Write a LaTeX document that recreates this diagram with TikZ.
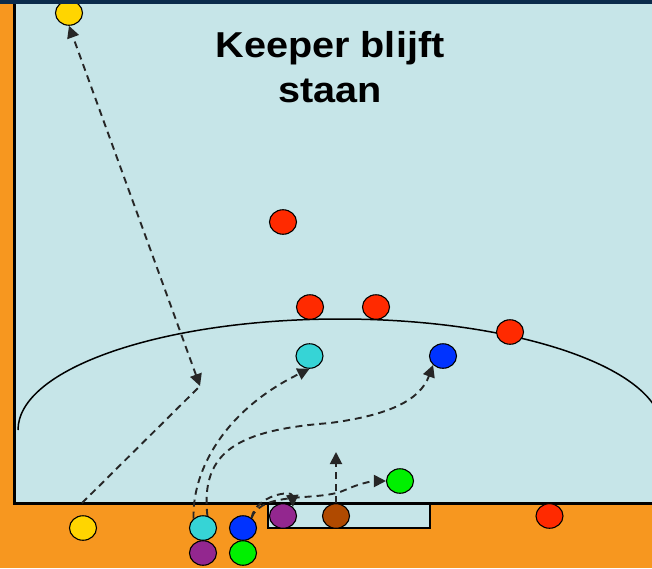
\documentclass[tikz,border=0pt]{standalone}
\usepackage{fontspec}
\setmainfont{Liberation Sans}
\usetikzlibrary{arrows.meta,shapes.geometric}
\definecolor{orng}{HTML}{F7971F}
\definecolor{fld}{HTML}{C6E5E8}
\definecolor{navy}{HTML}{0B2B4B}
\definecolor{pyel}{HTML}{FFD500}
\definecolor{pred}{HTML}{FF2A00}
\definecolor{pcyan}{HTML}{36D4D6}
\definecolor{pblue}{HTML}{0033FF}
\definecolor{pgreen}{HTML}{00F000}
\definecolor{ppurp}{HTML}{93278F}
\definecolor{pbrown}{HTML}{B04A00}
\begin{document}
\begin{tikzpicture}[x=1pt,y=-1pt,
 dot/.style={ellipse,draw=black,line width=1.1pt,minimum width=27pt,minimum height=24.5pt,inner sep=0pt,fill=#1},
 run/.style={dash pattern=on 7pt off 5pt,line width=1.9pt,draw=black!85},
 tip/.style={-{Triangle[length=12pt,width=12pt]}},
 tiptwo/.style={{Triangle[length=12pt,width=12pt]}-{Triangle[length=12pt,width=12pt]}},
 title/.style={font=\fontsize{36}{43}\selectfont\bfseries,inner sep=0pt,anchor=base}]
\useasboundingbox (0,0) rectangle (652,568);
\fill[orng] (0,0) rectangle (652,568);
\fill[fld] (14,4) rectangle (652,503);
\begin{scope}
\clip (15,4) rectangle (652,502);
\draw[line width=1.5pt] (18,430) arc[start angle=180,end angle=0,x radius=322pt,y radius=111pt];
\end{scope}
\draw[line width=2.5pt] (14.5,4) -- (14.5,503.5) -- (652,503.5);
\draw[fill=fld,line width=2pt] (268,503.5) rectangle (430,528);
\node[title] (t1) at (330,57) {\scalebox{1.1}[1]{Keeper blijft}};
\node[title] (t2) at (330,102) {\scalebox{1.1}[1]{staan}};
% players
\node[dot=pyel] (y1) at (69,13) {};
\node[dot=pred] (r1) at (283,222) {};
\node[dot=pred] (r2) at (310,307) {};
\node[dot=pred] (r3) at (376,307) {};
\node[dot=pred] (r4) at (510,332) {};
\node[dot=pcyan] (c1) at (309.5,356) {};
\node[dot=pblue] (b1) at (443,356) {};
\node[dot=pgreen] (g1) at (400,481) {};
\node[dot=pyel] (y2) at (83,528) {};
\node[dot=pcyan] (c2) at (203,528) {};
\node[dot=ppurp] (p1) at (203,553) {};
\node[dot=pblue] (b2) at (243,528) {};
\node[dot=pgreen] (g2) at (243,553) {};
\node[dot=ppurp] (p2) at (283,516) {};
\node[dot=pbrown] (br) at (336,516) {};
\node[dot=pred] (r5) at (549.5,516) {};
% helper points
\coordinate (j) at (200,386);
\coordinate (ys) at (82,503);
\coordinate (bt) at (336,452);
\coordinate (bm) at (330,423);
\coordinate (gm) at (345,490);
% runs and passes
\draw[run] (ys) -- (j);
\draw[run,tiptwo] (j) -- (y1.south);
\draw[run,tip] (c2.135) .. controls (192,470) and (225,410) .. (c1.south);
\draw[run,tip] (c2.70) .. controls (200,450) and (240,430) .. (bm) .. controls (390,415) and (420,400) .. (b1.south west);
\draw[run,tip] (b2.50) .. controls (256,495) and (292,490) .. (p2.north east);
\draw[run,tip] (b2.50) .. controls (262,490) and (320,502) .. (gm) .. controls (358,484) and (372,481) .. (g1.west);
\draw[run,tip] (br.north) -- (bt);
\fill[navy] (0,0) rectangle (652,4);
\end{tikzpicture}
\end{document}
